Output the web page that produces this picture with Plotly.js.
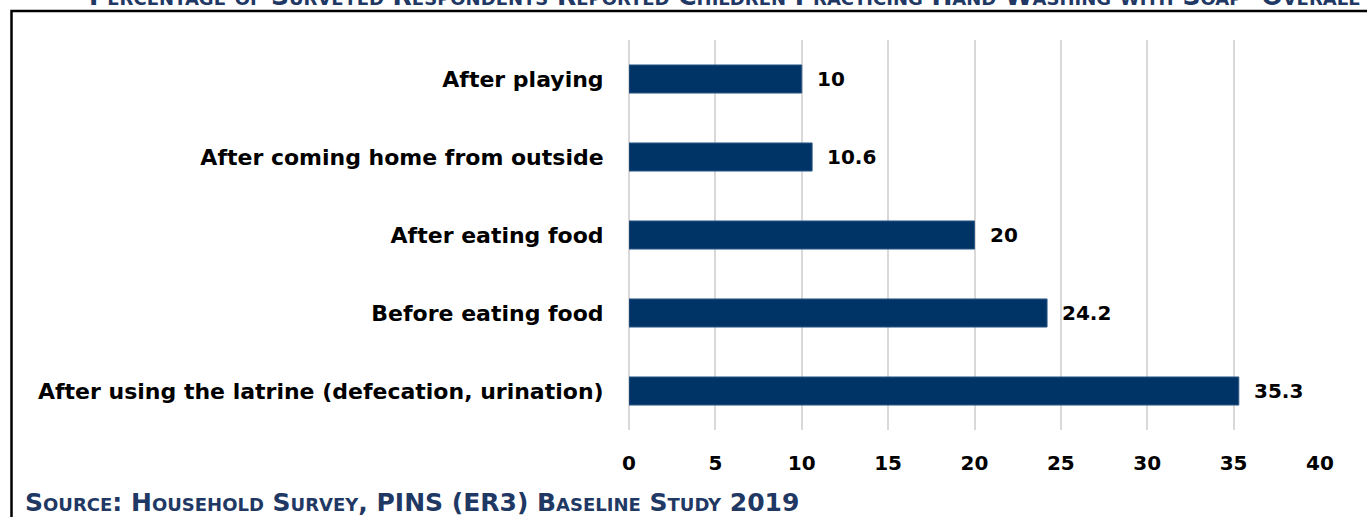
<!DOCTYPE html>
<html>
<head>
<meta charset="utf-8">
<script src="https://cdn.plot.ly/plotly-3.0.1.min.js"></script>
<style>
html,body{margin:0;padding:0;background:#fff;}
#chart{width:1367px;height:517px;}
</style>
</head>
<body>
<div id="chart"></div>
<script>
// Data
const categories = [
  "After playing",
  "After coming home from outside",
  "After eating food",
  "Before eating food",
  "After using the latrine (defecation, urination)"
];
const values = [10, 10.6, 20, 24.2, 35.3];
const valueLabels = ["10", "10.6", "20", "24.2", "35.3"];
const xTickVals = [0, 5, 10, 15, 20, 25, 30, 35, 40];
const titleText = "Percentage of Surveyed Respondents Reported Children Practicing Hand Washing with Soap- Overall";
const sourceText = "Source: Household Survey, PINS (ER3) Baseline Study 2019";

const FONT = "DejaVu Sans, Liberation Sans, Arial, sans-serif";
const NAVY = "#003366";
const TEXTNAVY = "#1F3864";

const W = 1367, H = 517;
const L = 629, R = 47, T = 40, B = 87;
const pw = W - L - R, ph = H - T - B;
const px2x = p => (p - L) / pw;
const py2y = p => (H - B - p) / ph;

const trace = {
  type: "bar",
  orientation: "h",
  y: categories,
  x: values,
  width: 0.36,
  marker: {color: NAVY, line: {color: "#2F5A88", width: 1}},
  hoverinfo: "x+y"
};

const annotations = values.map((v, i) => ({
  x: v, y: categories[i], xref: "x", yref: "y",
  text: valueLabels[i], showarrow: false,
  xanchor: "left", yanchor: "middle", xshift: 13,
  font: {family: FONT, size: 20, color: "#000", weight: 700}
}));

// Chart title (clipped at the top edge, as in the reference)
annotations.push({
  x: px2x(724), y: py2y(-3), xref: "paper", yref: "paper",
  text: titleText, showarrow: false,
  xanchor: "center", yanchor: "middle",
  font: {family: FONT, size: 25, color: TEXTNAVY, weight: 700, variant: "small-caps"}
});

annotations.push({
  x: px2x(23), y: py2y(502), xref: "paper", yref: "paper",
  text: sourceText, showarrow: false,
  xanchor: "left", yanchor: "middle",
  font: {family: FONT, size: 25, color: TEXTNAVY, weight: 700, variant: "small-caps"}
});

const layout = {
  width: W, height: H,
  margin: {l: L, r: R, t: T, b: B, pad: 0},
  paper_bgcolor: "#fff", plot_bgcolor: "#fff",
  showlegend: false,
  xaxis: {
    range: [0, 40],
    tickvals: xTickVals,
    ticktext: xTickVals.map(String),
    showgrid: true, gridcolor: "#D9D9D9", gridwidth: 2,
    zeroline: true, zerolinecolor: "#D9D9D9", zerolinewidth: 2,
    showline: false,
    ticks: "outside", ticklen: 15, tickcolor: "rgba(0,0,0,0)",
    tickfont: {family: FONT, size: 20, color: "#000", weight: 700},
    fixedrange: true
  },
  yaxis: {
    type: "category",
    categoryorder: "array", categoryarray: categories,
    autorange: "reversed",
    showgrid: false, zeroline: false, showline: false,
    ticks: "outside", ticklen: 20, tickcolor: "rgba(0,0,0,0)",
    tickfont: {family: FONT, size: 22, color: "#000", weight: 700},
    fixedrange: true
  },
  shapes: [{
    type: "rect", xref: "paper", yref: "paper",
    x0: px2x(11.5), x1: px2x(1380), y0: py2y(540), y1: py2y(11),
    line: {color: "#000", width: 2.5}, fillcolor: "rgba(0,0,0,0)", layer: "below"
  }],
  annotations: annotations,
  bargap: 0.64
};

Plotly.newPlot("chart", [trace], layout, {displayModeBar: false, staticPlot: true});
</script>
</body>
</html>
